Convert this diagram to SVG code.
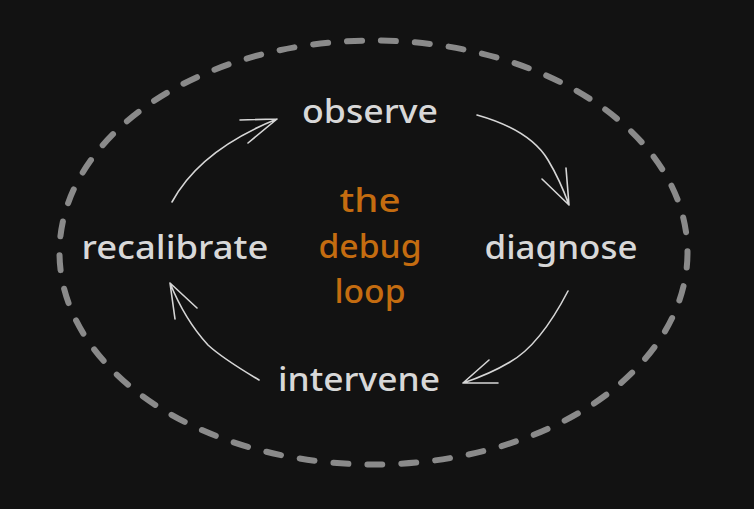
<svg xmlns="http://www.w3.org/2000/svg" width="754" height="509" viewBox="0 0 754 509">
<style>
.lbl{font-family:"Noto Sans","Liberation Sans",sans-serif;font-size:32px;fill:#d8d8d8;text-anchor:middle;font-weight:500}
.ctr{font-family:"Noto Sans","Liberation Sans",sans-serif;font-size:32px;fill:#c46c10;text-anchor:middle;font-weight:500}
.arr{fill:none;stroke:#d6d6d6;stroke-width:1.6;stroke-linecap:round;stroke-linejoin:round}
</style>
<rect width="754" height="509" fill="#121212"/>
<ellipse cx="373.5" cy="252.5" rx="314" ry="212" fill="none" stroke="#8a8a8a" stroke-width="6" stroke-linecap="round" stroke-dasharray="15 19"/>
<g id="connectors">
<path class="arr" d="M172,202 Q200,150 277,119 M240,120 L277,119 L248,143"/>
<path class="arr" d="M477,115 Q530,130 548,160 Q560,180 569,205 M566,168 L569,205 L542,179"/>
<path class="arr" d="M568,291 Q540,345 510,362 Q490,374 463,383 M489,360 L463,383 L498,383"/>
<path class="arr" d="M259,380 Q222,358 208,345 Q185,320 170,283 M175,319 L170,283 L197,308"/>
</g>
<g id="observe"><text class="lbl" x="370" y="123" textLength="136" lengthAdjust="spacingAndGlyphs">observe</text></g>
<g id="diagnose"><text class="lbl" x="561" y="259" textLength="153" lengthAdjust="spacingAndGlyphs">diagnose</text></g>
<g id="intervene"><text class="lbl" x="359" y="391" textLength="162" lengthAdjust="spacingAndGlyphs">intervene</text></g>
<g id="recalibrate"><text class="lbl" x="175" y="259" textLength="187" lengthAdjust="spacingAndGlyphs">recalibrate</text></g>
<g id="title">
<text class="ctr" x="370" y="212" textLength="61" lengthAdjust="spacingAndGlyphs">the</text>
<text class="ctr" x="370" y="258" textLength="103" lengthAdjust="spacingAndGlyphs">debug</text>
<text class="ctr" x="370" y="303" textLength="71" lengthAdjust="spacingAndGlyphs">loop</text>
</g>
</svg>
